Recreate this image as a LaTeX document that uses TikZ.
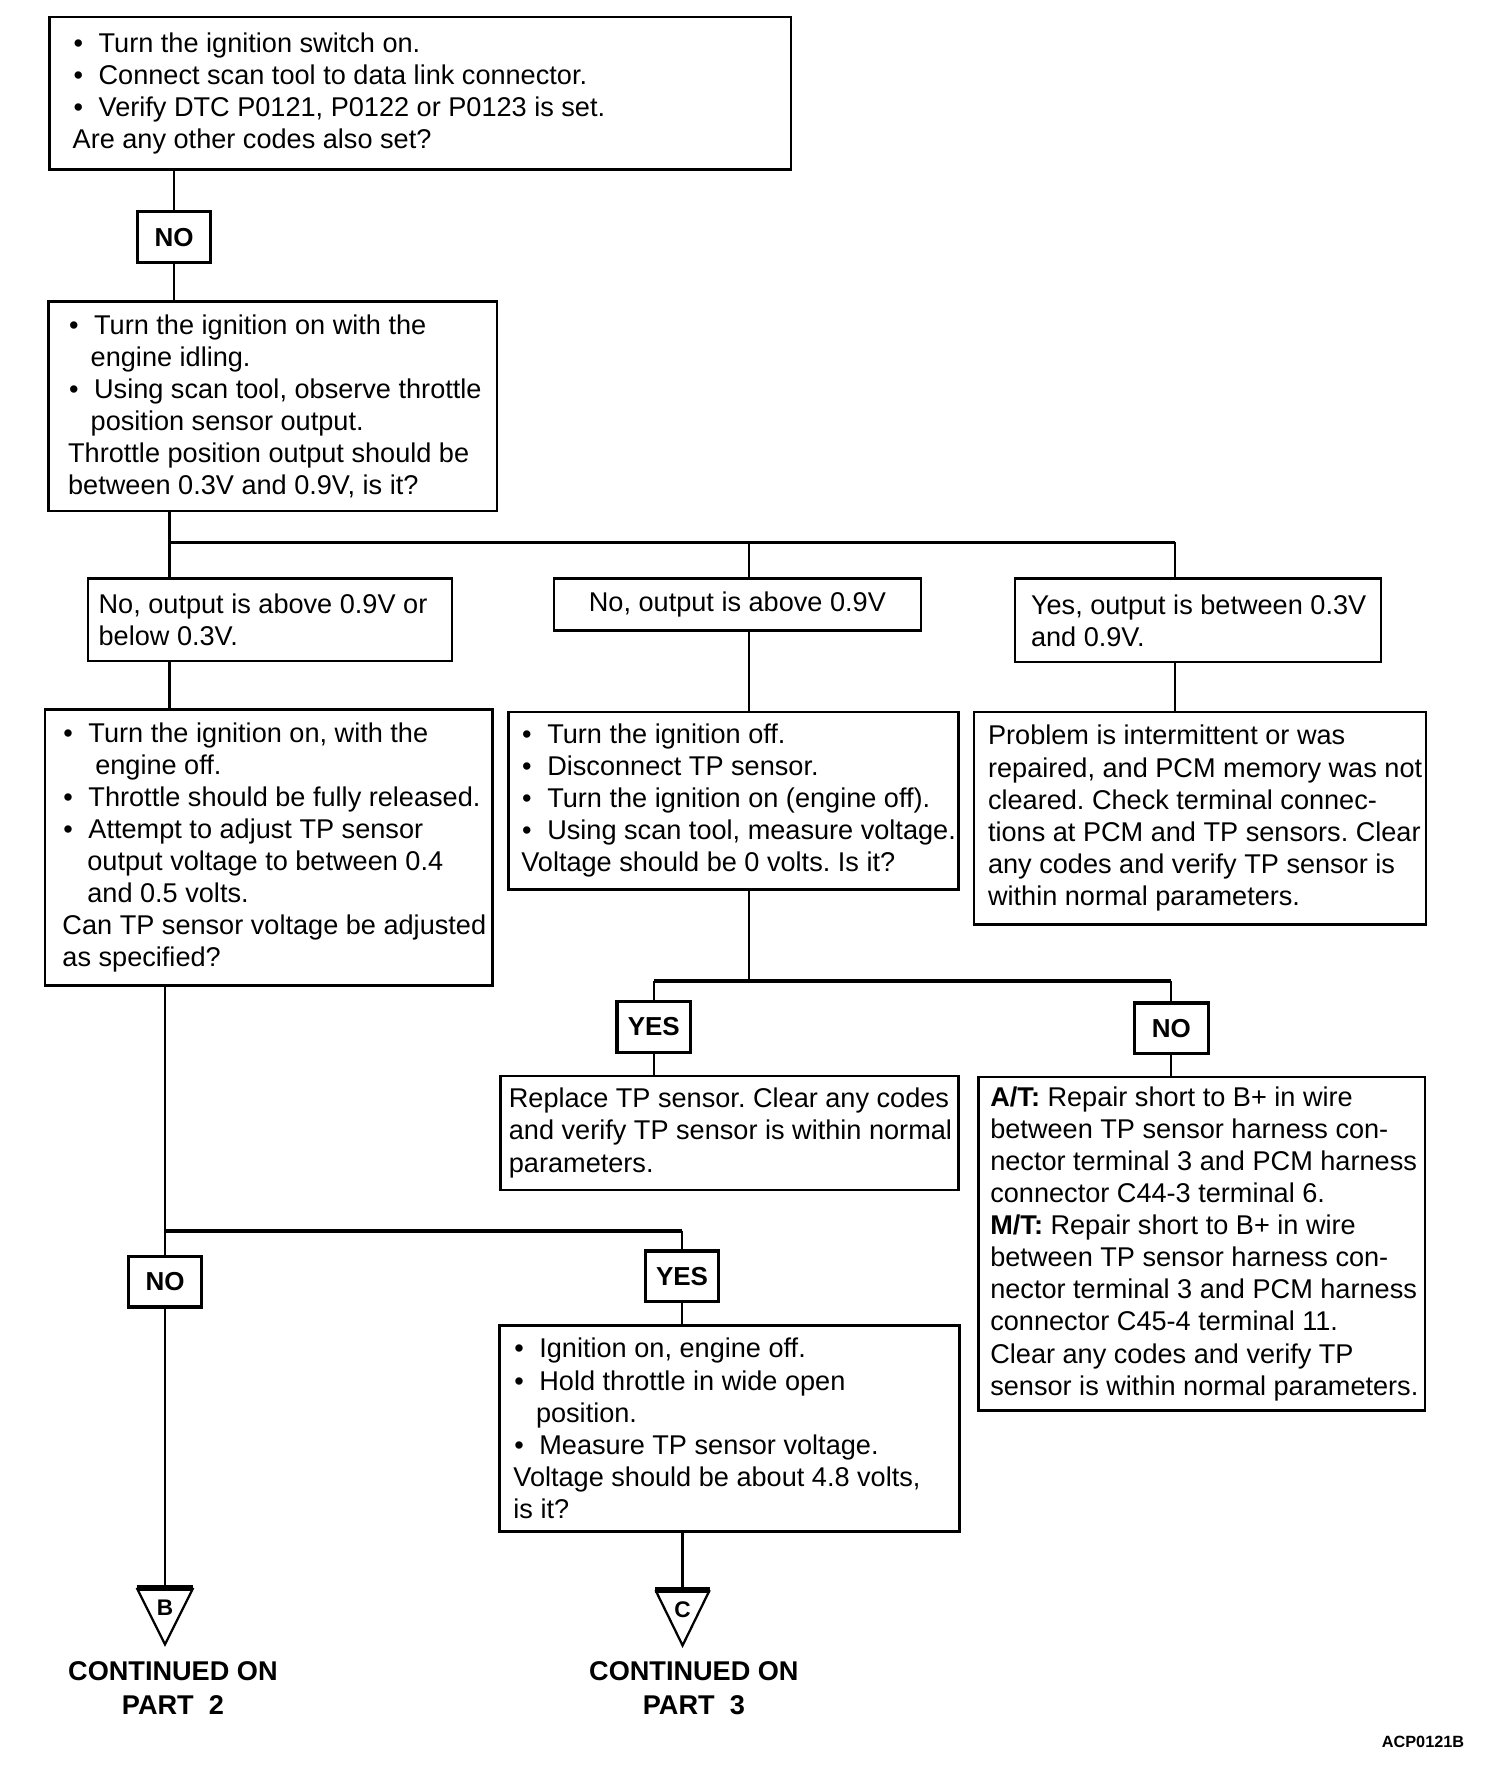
\documentclass[tikz,border=0pt]{standalone}
\usepackage{fontspec}
\setmainfont{Liberation Sans}
\usetikzlibrary{fit}
\frenchspacing
\newcommand{\mybul}{\makebox[11.5pt][l]{\hspace{0.4pt}•}}
\begin{document}
\begin{tikzpicture}[x=0.5pt,y=-0.5pt,
  box/.style={draw, line width=1.1pt, inner sep=0pt},
  ans/.style={draw, line width=1.4pt, inner sep=0pt, minimum height=22.5pt, font=\fontsize{11.5}{13}\selectfont\bfseries},
  txt/.style={anchor=west, align=left, inner sep=0pt, font=\fontsize{12}{14.2}\selectfont},
  conn/.style={line width=1pt},
  bus/.style={line width=1.6pt},
  tri/.style={line width=1pt, line join=miter},
  trtop/.style={line width=2.4pt},
  letter/.style={inner sep=0pt, font=\fontsize{10}{11}\selectfont\bfseries},
  cont/.style={align=center, inner sep=0pt, font=\fontsize{12}{15}\selectfont\bfseries},
]
\fill[white] (0,0) rectangle (1331,1568);
\useasboundingbox (0,0) rectangle (1331,1568);

% ---- boxes
\node[box, fit={(44,15) (700,150)}] (b1) {};
\node[txt] (t1) at ([xshift=10.5pt]b1.west) {\mybul Turn the ignition switch on.\\
\mybul Connect scan tool to data link connector.\\
\mybul Verify DTC P0121, P0122 or P0123 is set.\\
Are any other codes also set?};

\node[ans, minimum width=32pt] (no1) at (154,210) {NO};

\node[box, fit={(43,267) (440,452)}] (b2) {};
\node[txt] (t2) at ([xshift=9pt]b2.west) {\mybul Turn the ignition on with the\\
\hspace*{10pt}engine idling.\\
\mybul Using scan tool, observe throttle\\
\hspace*{10pt}position sensor output.\\
Throttle position output should be\\
between 0.3V and 0.9V, is it?};

\coordinate (j1) at (150,480);
\coordinate (j1b) at (663,480);
\coordinate (j1c) at (1040,480);

\node[box, fit={(78,512) (400,585)}] (b3a) {};
\node[txt] (t3a) at ([xshift=5pt]b3a.west) {No, output is above 0.9V or\\below 0.3V.};

\node[box, fit={(490,512) (815,558)}] (b3b) {};
\node[inner sep=0pt, font=\fontsize{12}{14.2}\selectfont] (t3b) at (b3b.center) {No, output is above 0.9V};

\node[box, fit={(898,512) (1222,586)}] (b3c) {};
\node[txt] (t3c) at ([xshift=7.5pt]b3c.west) {Yes, output is between 0.3V\\and 0.9V.};

\node[box, fit={(40,628) (436,872)}] (b4a) {};
\node[txt] (t4a) at ([xshift=8pt]b4a.west) {\mybul Turn the ignition on, with the\\
\hspace*{14.5pt}engine off.\\
\mybul Throttle should be fully released.\\
\mybul Attempt to adjust TP sensor\\
\hspace*{11pt}output voltage to between 0.4\\
\hspace*{11pt}and 0.5 volts.\\
Can TP sensor voltage be adjusted\\
as specified?};

\node[box, fit={(450,630) (848,787)}] (b4b) {};
\node[txt] (t4b) at ([xshift=6pt]b4b.west) {\mybul Turn the ignition off.\\
\mybul Disconnect TP sensor.\\
\mybul Turn the ignition on (engine off).\\
\mybul Using scan tool, measure voltage.\\
Voltage should be 0 volts. Is it?};

\node[box, fit={(862,630) (1262,818)}] (b4c) {};
\node[txt] (t4c) at ([xshift=6.5pt]b4c.west) {Problem is intermittent or was\\
repaired, and PCM memory was not\\
cleared. Check terminal connec-\\
tions at PCM and TP sensors. Clear\\
any codes and verify TP sensor is\\
within normal parameters.};

\coordinate (j2) at (663,868);
\node[ans, minimum width=32.5pt] (yes1) at (578.5,908.5) {YES};
\node[ans, minimum width=32.5pt] (no2) at (1036.5,910) {NO};

\node[box, fit={(443,952) (848,1053)}] (b5a) {};
\node[txt] (t5a) at ([xshift=4pt]b5a.west) {Replace TP sensor. Clear any codes\\
and verify TP sensor is within normal\\
parameters.};

\node[box, fit={(866,953) (1261,1248)}] (b5b) {};
\node[txt] (t5b) at ([xshift=5.5pt]b5b.west) {\textbf{A/T:} Repair short to B+ in wire\\
between TP sensor harness con-\\
nector terminal 3 and PCM harness\\
connector C44-3 terminal 6.\\
\textbf{M/T:} Repair short to B+ in wire\\
between TP sensor harness con-\\
nector terminal 3 and PCM harness\\
connector C45-4 terminal 11.\\
Clear any codes and verify TP\\
sensor is within normal parameters.};

\coordinate (j3) at (146,1089);
\node[ans, minimum width=32pt] (no3) at (146,1134) {NO};
\node[ans, minimum width=32.5pt] (yes2) at (603.5,1129.5) {YES};

\node[box, fit={(442,1173) (849,1355)}] (b6) {};
\node[txt] (t6) at ([xshift=6.5pt]b6.west) {\mybul Ignition on, engine off.\\
\mybul Hold throttle in wide open\\
\hspace*{10pt}position.\\
\mybul Measure TP sensor voltage.\\
Voltage should be about 4.8 volts,\\
is it?};

% ---- off-page triangles
\coordinate (tB) at (146,1405);
\coordinate (tC) at (604,1407);
\draw[tri] ([xshift=-12.5pt]tB) -- ([yshift=-25pt]tB) -- ([xshift=12.5pt]tB);
\draw[trtop] ([xshift=-12.5pt]tB) -- ([xshift=12.5pt]tB);
\node[letter] (lB) at (146,1423) {B};
\draw[tri] ([xshift=-12pt]tC) -- ([yshift=-24.5pt]tC) -- ([xshift=12pt]tC);
\draw[trtop] ([xshift=-12pt]tC) -- ([xshift=12pt]tC);
\node[letter] (lC) at (604,1424) {C};

\node[cont] (cB) at (153,1494) {CONTINUED ON\\PART\ \ 2};
\node[cont] (cC) at (614,1494) {CONTINUED ON\\PART\ \ 3};
\node[anchor=east, inner sep=0pt, font=\fontsize{7.2}{8}\selectfont\bfseries] (code) at (1296,1541) {ACP0121B};

% ---- connectors
\draw[conn] (b1.south -| no1) -- (no1.north);
\draw[conn] (no1.south) -- (no1.south |- b2.north);
\draw[conn] (b2.south -| j1) -- (j1);
\draw[bus] (j1) -- (j1c);
\draw[conn] (j1) -- (j1 |- b3a.north);
\draw[conn] (j1b) -- (j1b |- b3b.north);
\draw[conn] (j1c) -- (j1c |- b3c.north);
\draw[conn] (b3a.south -| j1) -- (j1 |- b4a.north);
\draw[conn] (b3b.south -| j1b) -- (j1b |- b4b.north);
\draw[conn] (b3c.south -| j1c) -- (j1c |- b4c.north);
\draw[conn] (b4b.south -| j2) -- (j2);
\draw[bus] (j2 -| yes1) -- (j2 -| no2);
\draw[conn] (j2 -| yes1) -- (yes1.north);
\draw[conn] (yes1.south) -- (yes1.south |- b5a.north);
\draw[conn] (j2 -| no2) -- (no2.north);
\draw[conn] (no2.south) -- (no2.south |- b5b.north);
\draw[conn] (b4a.south -| j3) -- (j3);
\draw[bus] (j3) -- (j3 -| yes2);
\draw[conn] (j3) -- (no3.north);
\draw[conn] (j3 -| yes2) -- (yes2.north);
\draw[conn] (yes2.south) -- (yes2.south |- b6.north);
\draw[conn] (no3.south) -- (tB);
\draw[conn] (b6.south -| tC) -- (tC);
\end{tikzpicture}
\end{document}
